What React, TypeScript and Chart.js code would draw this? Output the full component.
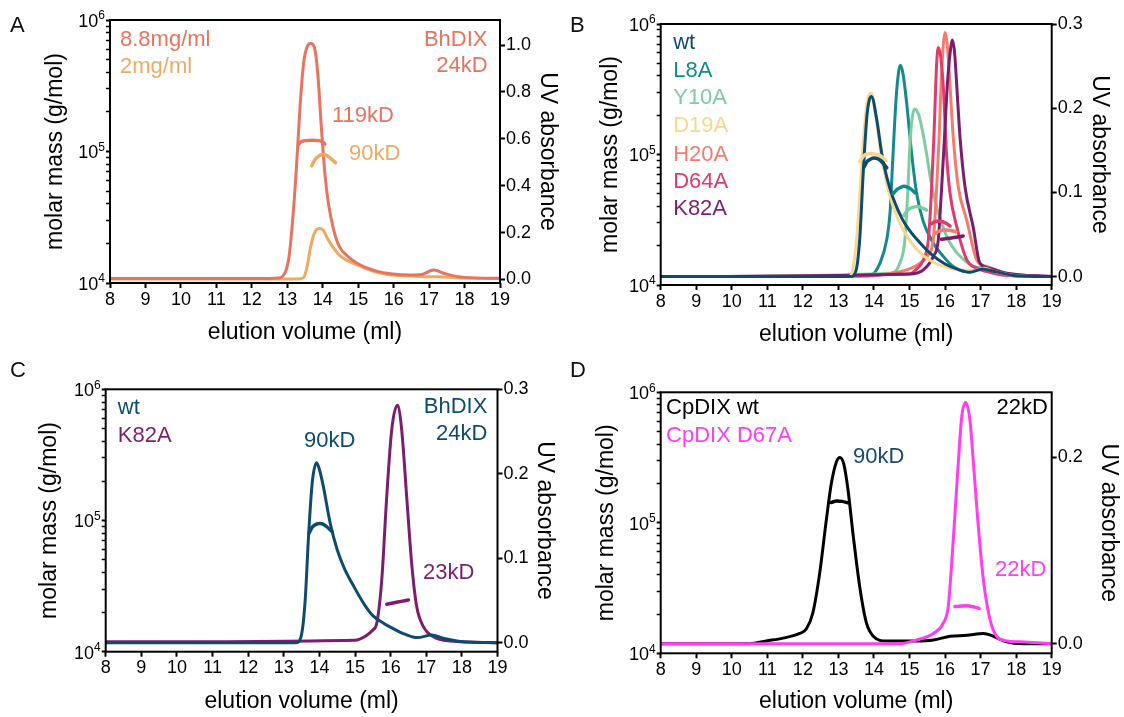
import React, { useEffect, useRef } from 'react';
import { Chart, registerables } from 'chart.js';
Chart.register(...registerables);

const FONT = '"Liberation Sans", Arial, Helvetica, "DejaVu Sans", sans-serif';

// ---------- shared ticks ----------
const xTicks = [8, 9, 10, 11, 12, 13, 14, 15, 16, 17, 18, 19];
const massTicks = [10000, 20000, 30000, 40000, 50000, 60000, 70000, 80000, 90000,
  100000, 200000, 300000, 400000, 500000, 600000, 700000, 800000, 900000, 1000000];
const massMajor = [10000, 100000, 1000000];
const massMajorBase = '10';
const massMajorExp = ['4', '5', '6'];
const uvTicksA = [0, 0.2, 0.4, 0.6, 0.8, 1.0];
const uvTicksB = [0, 0.1, 0.2, 0.3];
const uvTicksC = [0, 0.1, 0.2, 0.3];
const uvTicksD = [0, 0.2];

// ---------- Panel A ----------
const volA_88 = [8, 12.5, 12.75, 12.95, 13.05, 13.16, 13.26, 13.36, 13.46, 13.56, 13.66, 13.76, 13.86, 13.96, 14.06, 14.16, 14.31, 14.47, 14.72, 14.97, 15.47, 15.97, 16.48, 16.78, 17.13, 17.49, 17.99, 19];
const uvA_88 = [0.004, 0.004, 0.006, 0.033, 0.097, 0.268, 0.481, 0.737, 0.922, 0.993, 1.007, 0.993, 0.879, 0.652, 0.453, 0.325, 0.211, 0.14, 0.097, 0.069, 0.038, 0.023, 0.019, 0.021, 0.04, 0.023, 0.009, 0.005];
const volA_2 = [8, 13.3, 13.46, 13.56, 13.66, 13.76, 13.91, 14.01, 14.16, 14.47, 14.97, 15.47, 15.97, 16.48, 16.98, 17.28, 17.99, 19];
const uvA_2 = [0.002, 0.002, 0.008, 0.055, 0.14, 0.197, 0.218, 0.211, 0.168, 0.104, 0.062, 0.033, 0.019, 0.015, 0.012, 0.012, 0.006, 0.004];
const mmVolA_88 = [13.31, 13.4, 13.5, 13.7, 13.9, 14.0, 14.06];
const mmA_88 = [113000, 119000, 121000, 122000, 121000, 118000, 114000];
const mmVolA_2 = [13.69, 13.8, 13.9, 14.0, 14.1, 14.2, 14.3, 14.36];
const mmA_2 = [78000, 88000, 93000, 95000, 94000, 90000, 85000, 82000];

// ---------- Panel B ----------
const volB_wt = [8, 13.35, 13.5, 13.6, 13.7, 13.8, 13.87, 13.93, 14.08, 14.22, 14.36, 14.54, 14.8, 15.0, 15.3, 15.6, 16.0, 16.4, 16.7, 17.05, 17.4, 18.0, 19];
const uvB_wt = [0, 0, 0.008, 0.045, 0.125, 0.19, 0.21, 0.214, 0.186, 0.146, 0.118, 0.093, 0.068, 0.055, 0.04, 0.027, 0.015, 0.008, 0.005, 0.009, 0.006, 0.001, 0];
const volB_L8A = [8, 13.9, 14.17, 14.36, 14.45, 14.53, 14.62, 14.7, 14.75, 14.82, 14.92, 15.06, 15.2, 15.39, 15.67, 15.95, 16.23, 16.61, 17.1, 17.5, 18.0, 19];
const uvB_L8A = [0, 0.002, 0.016, 0.044, 0.075, 0.14, 0.21, 0.245, 0.251, 0.24, 0.206, 0.146, 0.099, 0.065, 0.04, 0.024, 0.012, 0.006, 0.009, 0.004, 0.001, 0];
const volB_Y10A = [8, 14.45, 14.73, 14.87, 14.95, 15.01, 15.08, 15.15, 15.25, 15.34, 15.48, 15.58, 15.67, 15.8, 15.95, 16.1, 16.3, 16.5, 16.8, 17.1, 17.45, 17.9, 19];
const uvB_Y10A = [0, 0.004, 0.016, 0.044, 0.1, 0.155, 0.19, 0.199, 0.193, 0.178, 0.146, 0.119, 0.099, 0.077, 0.058, 0.043, 0.03, 0.021, 0.012, 0.01, 0.005, 0.001, 0];
const volB_D19A = [8, 13.3, 13.4, 13.51, 13.61, 13.7, 13.8, 13.92, 14.05, 14.2, 14.35, 14.54, 14.83, 15.11, 15.39, 15.67, 16.04, 16.4, 16.8, 17.1, 17.4, 18.0, 19];
const uvB_D19A = [0, 0, 0.008, 0.044, 0.103, 0.16, 0.205, 0.218, 0.19, 0.145, 0.112, 0.083, 0.055, 0.037, 0.025, 0.017, 0.011, 0.008, 0.007, 0.01, 0.006, 0.001, 0];
const volB_H20A = [8, 13.5, 14.17, 14.92, 15.3, 15.53, 15.67, 15.76, 15.83, 15.9, 16.0, 16.07, 16.14, 16.23, 16.37, 16.61, 16.89, 17.17, 17.73, 19];
const uvB_H20A = [0, 0, 0.002, 0.008, 0.016, 0.026, 0.044, 0.103, 0.162, 0.24, 0.29, 0.272, 0.226, 0.166, 0.107, 0.067, 0.02, 0.012, 0.004, 0];
const volB_D64A = [8, 15.0, 15.2, 15.39, 15.53, 15.62, 15.69, 15.76, 15.81, 15.88, 15.95, 16.04, 16.14, 16.33, 16.61, 16.89, 17.17, 17.6, 19];
const uvB_D64A = [0, 0.003, 0.009, 0.02, 0.044, 0.103, 0.17, 0.25, 0.272, 0.26, 0.226, 0.146, 0.099, 0.059, 0.02, 0.01, 0.006, 0.002, 0];
const volB_K82A = [8, 15.0, 15.39, 15.67, 15.81, 15.9, 15.98, 16.06, 16.14, 16.21, 16.27, 16.33, 16.42, 16.56, 16.79, 16.98, 17.26, 17.73, 19];
const uvB_K82A = [0, 0.003, 0.008, 0.024, 0.044, 0.103, 0.162, 0.225, 0.265, 0.281, 0.265, 0.226, 0.166, 0.107, 0.059, 0.016, 0.01, 0.004, 0];
const mmVolB_wt = [13.72, 13.8, 13.9, 14.0, 14.1, 14.2, 14.3, 14.36];
const mmB_wt = [80000, 88000, 92000, 94000, 93000, 89000, 83000, 79000];
const mmVolB_D19A = [13.6, 13.7, 13.8, 13.9, 14.0, 14.1, 14.2, 14.34];
const mmB_D19A = [88000, 97000, 101000, 102000, 101000, 100000, 97000, 90000];
const mmVolB_L8A = [14.54, 14.65, 14.75, 14.85, 14.95, 15.05, 15.15];
const mmB_L8A = [50000, 54000, 56000, 57000, 56000, 54000, 51000];
const mmVolB_Y10A = [14.84, 14.95, 15.05, 15.2, 15.35, 15.48];
const mmB_Y10A = [34000, 37500, 39000, 40000, 39000, 37500];
const mmVolB_D64A = [15.62, 15.7, 15.81, 15.95, 16.05, 16.14];
const mmB_D64A = [29500, 30500, 31000, 30500, 29500, 28300];
const mmVolB_H20A = [15.74, 15.85, 16.0, 16.15, 16.31];
const mmB_H20A = [25000, 26000, 26400, 26200, 25600];
const mmVolB_K82A = [15.9, 16.1, 16.3, 16.51];
const mmB_K82A = [22400, 22800, 23200, 23700];

// ---------- Panel C ----------
const volC_wt = [8, 13.35, 13.5, 13.6, 13.7, 13.8, 13.92, 14.0, 14.11, 14.3, 14.5, 14.7, 15.0, 15.25, 15.5, 15.8, 16.1, 16.4, 16.75, 17.15, 17.5, 18.05, 19];
const uvC_wt = [0, 0, 0.01, 0.05, 0.13, 0.19, 0.213, 0.205, 0.185, 0.142, 0.11, 0.088, 0.064, 0.046, 0.032, 0.023, 0.016, 0.01, 0.006, 0.009, 0.005, 0.001, 0];
const volC_K82A = [8, 15.0, 15.3, 15.5, 15.61, 15.75, 15.89, 16.03, 16.19, 16.31, 16.45, 16.59, 16.73, 16.92, 17.2, 17.67, 19];
const uvC_K82A = [0.001, 0.003, 0.008, 0.015, 0.023, 0.074, 0.173, 0.252, 0.281, 0.252, 0.173, 0.094, 0.043, 0.019, 0.007, 0.002, 0];
const mmVolC_wt = [13.71, 13.8, 13.9, 14.01, 14.1, 14.2, 14.36];
const mmC_wt = [80000, 89000, 93500, 95000, 94000, 90000, 82000];
const mmVolC_K82A = [15.89, 16.1, 16.3, 16.5];
const mmC_K82A = [23000, 23600, 24200, 24800];

// ---------- Panel D ----------
const volD_wt = [8, 10.5, 10.97, 11.44, 11.91, 12.1, 12.28, 12.47, 12.66, 12.8, 12.94, 13.04, 13.15, 13.27, 13.41, 13.6, 13.79, 13.98, 14.35, 14.73, 15.2, 15.67, 16.14, 16.61, 17.08, 17.36, 17.73, 18.2, 19];
const uvD_wt = [0, 0, 0.003, 0.006, 0.011, 0.016, 0.033, 0.075, 0.133, 0.172, 0.195, 0.2, 0.193, 0.165, 0.118, 0.061, 0.022, 0.008, 0.003, 0.003, 0.003, 0.004, 0.008, 0.009, 0.011, 0.008, 0.002, 0, 0];
const volD_D67A = [8, 14.73, 15.2, 15.67, 15.95, 16.09, 16.18, 16.28, 16.37, 16.47, 16.58, 16.7, 16.8, 16.92, 17.08, 17.27, 17.45, 17.73, 18.1, 19];
const uvD_D67A = [0, 0, 0.004, 0.011, 0.022, 0.04, 0.083, 0.14, 0.193, 0.244, 0.259, 0.24, 0.193, 0.133, 0.068, 0.025, 0.008, 0.003, 0.002, 0];
const mmVolD_wt = [12.8, 12.95, 13.1, 13.27];
const mmD_wt = [143000, 147000, 146000, 142000];
const mmVolD_D67A = [16.28, 16.45, 16.61, 16.8, 16.96];
const mmD_D67A = [22800, 23000, 23100, 22700, 22100];

// ---------- colours ----------
const cRedA = '#E8735F';
const cOrangeA = '#EFAA62';
const cWt = '#0E4C6F';
const cL8A = '#128A8E';
const cY10A = '#7ECDA0';
const cD19A = '#F9D88E';
const cH20A = '#F47C6B';
const cD64A = '#E13A6D';
const cK82A = '#7B1E6F';
const cMagenta = '#FF3DF2';
const cNavy = '#1A4B6E';

type Series = { vol: number[]; val: number[]; color: string; axis: 'yR' | 'yL'; width: number };
type Label = { text: string; fx: number; fy: number; align: 'left' | 'right'; color: string };
type Panel = {
  letter: string;
  box: { left: number; top: number; width: number; height: number };
  area: { left: number; right: number; top: number; bottom: number };
  uvMin: number; uvMax: number; uvTicks: number[];
  titleC: { left: number; right: number; bottom: number };
  series: Series[]; // bottom layer first
  labels: Label[];
};

const uv = (vol: number[], val: number[], color: string, width = 3): Series => ({ vol, val, color, axis: 'yR', width });
const mm = (vol: number[], val: number[], color: string, width = 3.5): Series => ({ vol, val, color, axis: 'yL', width });

const panels: Panel[] = [
  {
    letter: 'A',
    box: { left: 0, top: 0, width: 562, height: 358 },
    area: { left: 110, right: 500, top: 20, bottom: 283 },
    uvMin: -0.015, uvMax: 1.107, uvTicks: uvTicksA,
    titleC: { left: 56, right: 547.5, bottom: 333 },
    series: [
      uv(volA_2, uvA_2, cOrangeA),
      uv(volA_88, uvA_88, cRedA),
      mm(mmVolA_2, mmA_2, cOrangeA),
      mm(mmVolA_88, mmA_88, cRedA),
    ],
    labels: [
      { text: '8.8mg/ml', fx: 0.0256, fy: 0.076, align: 'left', color: cRedA },
      { text: '2mg/ml', fx: 0.0256, fy: 0.179, align: 'left', color: cOrangeA },
      { text: 'BhDIX', fx: 0.968, fy: 0.076, align: 'right', color: cRedA },
      { text: '24kD', fx: 0.968, fy: 0.175, align: 'right', color: cRedA },
      { text: '119kD', fx: 0.569, fy: 0.365, align: 'left', color: cRedA },
      { text: '90kD', fx: 0.613, fy: 0.51, align: 'left', color: cOrangeA },
    ],
  },
  {
    letter: 'B',
    box: { left: 562, top: 0, width: 562, height: 358 },
    area: { left: 660.7, right: 1051.7, top: 24, bottom: 285 },
    uvMin: -0.01, uvMax: 0.3, uvTicks: uvTicksB,
    titleC: { left: 610.4, right: 1099.6, bottom: 335 },
    series: [
      uv(volB_L8A, uvB_L8A, cL8A),
      uv(volB_Y10A, uvB_Y10A, cY10A),
      uv(volB_H20A, uvB_H20A, cH20A),
      uv(volB_D64A, uvB_D64A, cD64A),
      uv(volB_K82A, uvB_K82A, cK82A),
      uv(volB_D19A, uvB_D19A, cD19A),
      uv(volB_wt, uvB_wt, cWt),
      mm(mmVolB_D19A, mmB_D19A, cD19A),
      mm(mmVolB_wt, mmB_wt, cWt),
      mm(mmVolB_L8A, mmB_L8A, cL8A),
      mm(mmVolB_Y10A, mmB_Y10A, cY10A),
      mm(mmVolB_D64A, mmB_D64A, cD64A),
      mm(mmVolB_H20A, mmB_H20A, cH20A),
      mm(mmVolB_K82A, mmB_K82A, cK82A),
    ],
    labels: [
      { text: 'wt', fx: 0.032, fy: 0.074, align: 'left', color: cWt },
      { text: 'L8A', fx: 0.032, fy: 0.18, align: 'left', color: cL8A },
      { text: 'Y10A', fx: 0.032, fy: 0.284, align: 'left', color: cY10A },
      { text: 'D19A', fx: 0.032, fy: 0.391, align: 'left', color: cD19A },
      { text: 'H20A', fx: 0.032, fy: 0.502, align: 'left', color: cH20A },
      { text: 'D64A', fx: 0.032, fy: 0.605, align: 'left', color: cD64A },
      { text: 'K82A', fx: 0.032, fy: 0.709, align: 'left', color: cK82A },
    ],
  },
  {
    letter: 'C',
    box: { left: 0, top: 358, width: 562, height: 359 },
    area: { left: 105.7, right: 497.5, top: 389.3, bottom: 651.7 },
    uvMin: -0.0107, uvMax: 0.3, uvTicks: uvTicksC,
    titleC: { left: 50, right: 544.6, bottom: 701.7 },
    series: [
      uv(volC_K82A, uvC_K82A, cK82A),
      uv(volC_wt, uvC_wt, cWt),
      mm(mmVolC_K82A, mmC_K82A, cK82A),
      mm(mmVolC_wt, mmC_wt, cWt),
    ],
    labels: [
      { text: 'wt', fx: 0.031, fy: 0.071, align: 'left', color: cWt },
      { text: 'K82A', fx: 0.031, fy: 0.178, align: 'left', color: cK82A },
      { text: 'BhDIX', fx: 0.974, fy: 0.067, align: 'right', color: cWt },
      { text: '24kD', fx: 0.974, fy: 0.17, align: 'right', color: cWt },
      { text: '90kD', fx: 0.506, fy: 0.197, align: 'left', color: cWt },
      { text: '23kD', fx: 0.81, fy: 0.7, align: 'left', color: cK82A },
    ],
  },
  {
    letter: 'D',
    box: { left: 562, top: 358, width: 562, height: 359 },
    area: { left: 660.7, right: 1051.7, top: 392.3, bottom: 653.3 },
    uvMin: -0.0103, uvMax: 0.27, uvTicks: uvTicksD,
    titleC: { left: 606.8, right: 1108.6, bottom: 701.7 },
    series: [
      uv(volD_wt, uvD_wt, '#000000'),
      uv(volD_D67A, uvD_D67A, cMagenta),
      mm(mmVolD_wt, mmD_wt, '#000000'),
      mm(mmVolD_D67A, mmD_D67A, cMagenta),
    ],
    labels: [
      { text: 'CpDIX wt', fx: 0.0136, fy: 0.06, align: 'left', color: '#000000' },
      { text: 'CpDIX D67A', fx: 0.0136, fy: 0.167, align: 'left', color: cMagenta },
      { text: '22kD', fx: 0.99, fy: 0.06, align: 'right', color: '#000000' },
      { text: '90kD', fx: 0.492, fy: 0.247, align: 'left', color: cNavy },
      { text: '22kD', fx: 0.855, fy: 0.681, align: 'left', color: cMagenta },
    ],
  },
];

const isMajor = (v: number) => massMajor.some((m) => Math.abs(m - v) < 1e-6 * m);
const TITLE_SIZE = 23;
const LH = TITLE_SIZE * 1.2 / 2;

function PanelChart({ p }: { p: Panel }) {
  const ref = useRef<HTMLCanvasElement>(null);
  useEffect(() => {
    const canvas = ref.current;
    if (!canvas) return;
    const b = p.box;
    const a = {
      left: p.area.left - b.left, right: p.area.right - b.left,
      top: p.area.top - b.top, bottom: p.area.bottom - b.top,
    };
    const n = p.series.length;
    const annot = {
      id: 'annot_' + p.letter,
      afterDraw(chart: any) {
        const { ctx, chartArea: ca } = chart;
        ctx.save();
        ctx.strokeStyle = '#000';
        ctx.lineWidth = 2;
        ctx.strokeRect(ca.left, ca.top, ca.right - ca.left, ca.bottom - ca.top);
        // log-axis labels with superscript exponent
        const sL = chart.scales.yL;
        ctx.fillStyle = '#000';
        ctx.textAlign = 'right';
        ctx.textBaseline = 'middle';
        massMajor.forEach((m, k) => {
          const y = sL.getPixelForValue(m);
          const xr = ca.left - 5;
          ctx.font = `12px ${FONT}`;
          const ew = ctx.measureText(massMajorExp[k]).width;
          ctx.fillText(massMajorExp[k], xr, y - 4);
          ctx.font = `18px ${FONT}`;
          ctx.fillText(massMajorBase, xr - ew, y + 2);
        });
        ctx.font = `22px ${FONT}`;
        ctx.textBaseline = 'middle';
        for (const l of p.labels) {
          ctx.fillStyle = l.color;
          ctx.textAlign = l.align;
          ctx.fillText(l.text, ca.left + l.fx * (ca.right - ca.left), ca.top + l.fy * (ca.bottom - ca.top));
        }
        ctx.restore();
      },
    };
    const tickFont = { family: FONT, size: 18 };
    const titleFont = { family: FONT, size: TITLE_SIZE };
    const chart = new Chart(canvas, {
      type: 'line',
      data: {
        datasets: p.series.map((s, i) => ({
          data: s.vol.map((x, j) => ({ x, y: s.val[j] })),
          yAxisID: s.axis,
          borderColor: s.color,
          borderWidth: s.width,
          pointRadius: 0,
          fill: false,
          cubicInterpolationMode: 'monotone' as const,
          borderCapStyle: 'round' as const,
          borderJoinStyle: 'round' as const,
          order: n - i,
        })),
      },
      options: {
        animation: false,
        responsive: false,
        maintainAspectRatio: false,
        layout: { padding: { top: a.top, left: 0, right: 0, bottom: 0 } },
        plugins: { legend: { display: false }, tooltip: { enabled: false } },
        scales: {
          x: {
            type: 'linear', position: 'bottom', min: 8, max: 19,
            afterBuildTicks: (s: any) => { s.ticks = xTicks.map((v) => ({ value: v })); },
            afterFit: (s: any) => { s.height = b.height - a.bottom; },
            ticks: { font: tickFont, color: '#000', padding: 1, autoSkip: false, maxRotation: 0, callback: (v: any) => String(v) },
            grid: { drawOnChartArea: false, drawTicks: true, tickLength: 5, tickColor: '#000', tickWidth: 2 },
            border: { display: false },
            title: { display: true, text: 'elution volume (ml)', font: titleFont, color: '#000',
              padding: { top: 0, bottom: (b.top + b.height - p.titleC.bottom) - LH } },
          },
          yL: {
            type: 'logarithmic', position: 'left', min: 10000, max: 1000000,
            afterBuildTicks: (s: any) => { s.ticks = massTicks.map((v) => ({ value: v })); },
            afterFit: (s: any) => { s.width = a.left; },
            ticks: { font: tickFont, color: '#000', padding: 1, autoSkip: false, callback: () => '' },
            grid: { drawOnChartArea: false, drawTicks: true, tickLength: 4, tickColor: '#000',
              tickWidth: (ctx: any) => (ctx.tick && isMajor(ctx.tick.value) ? 2 : 1.5) },
            border: { display: false },
            title: { display: true, text: 'molar mass (g/mol)', font: titleFont, color: '#000',
              padding: { top: (p.titleC.left - b.left) - LH, bottom: 0 } },
          },
          yR: {
            type: 'linear', position: 'right', min: p.uvMin, max: p.uvMax,
            afterBuildTicks: (s: any) => { s.ticks = p.uvTicks.map((v) => ({ value: v })); },
            afterFit: (s: any) => { s.width = b.width - a.right; },
            ticks: { font: tickFont, color: '#000', padding: 1, autoSkip: false, callback: (v: any) => Number(v).toFixed(1) },
            grid: { drawOnChartArea: false, drawTicks: true, tickLength: 5, tickColor: '#000', tickWidth: 2 },
            border: { display: false },
            title: { display: true, text: 'UV absorbance', font: titleFont, color: '#000',
              padding: { top: (b.left + b.width - p.titleC.right) - LH, bottom: 0 } },
          },
        },
      } as any,
      plugins: [annot],
    });
    return () => chart.destroy();
  }, [p]);
  return (
    <canvas
      ref={ref}
      width={p.box.width}
      height={p.box.height}
      style={{ position: 'absolute', left: p.box.left, top: p.box.top, width: p.box.width, height: p.box.height }}
    />
  );
}

export default function App() {
  const letterPos = [
    { l: 'A', x: 10, y: 14 },
    { l: 'B', x: 570, y: 14 },
    { l: 'C', x: 10, y: 359 },
    { l: 'D', x: 570, y: 359 },
  ];
  return (
    <div style={{ position: 'absolute', left: 0, top: 0, width: 1124, height: 717, background: '#fff', overflow: 'hidden' }}>
      {panels.map((p) => <PanelChart key={p.letter} p={p} />)}
      {letterPos.map((lp) => (
        <div key={lp.l} style={{ position: 'absolute', left: lp.x, top: lp.y, fontFamily: FONT, fontSize: 22, lineHeight: '22px', color: '#111' }}>{lp.l}</div>
      ))}
    </div>
  );
}
